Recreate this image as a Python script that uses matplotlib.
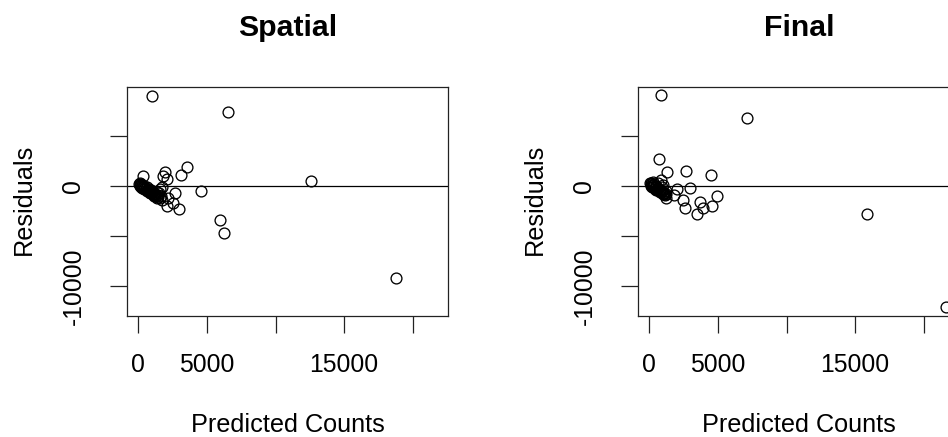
import matplotlib
matplotlib.use("Agg")
import matplotlib.pyplot as plt

plt.rcParams['font.family'] = ['Liberation Sans', 'DejaVu Sans']

# ---------------- data ----------------
titles = ["Spatial", "Final"]
x_label = "Predicted Counts"
y_label = "Residuals"

x_ticks = [0, 5000, 10000, 15000, 20000]
x_tick_labels = ["0", "5000", "", "15000", ""]
y_ticks = [-10000, -5000, 0, 5000]
y_tick_labels = ["-10000", "", "0", ""]

x_limits = (-802, 22595)
y_limits = (-12974, 9910)

spatial_pred = [975, 6560, 12588, 18760, 5955, 6247, 4548, 3528, 3134, 2989,
                2697, 1946, 1824, 2067, 2067, 2551, 2187, 364,
                60, 100, 150, 200, 250, 300, 350, 400, 450, 500, 550, 600,
                650, 700, 750, 800, 850, 900, 950, 1000, 1050, 1100, 1150,
                1200, 1250, 1300, 1400, 1450, 1550, 1650, 1700, 1350, 1500,
                1600, 1750, 120, 180, 280, 420, 620, 880, 1120, 1380]
spatial_resid = [8982, 7352, 532, -9148, -3426, -4691, -532, 1896, 1065, -2329,
                 -665, 1431, 998, 665, -1996, -1663, -1231, 998,
                 150, 250, 50, 180, -20, 100, -80, -150, 20, -200, -280, -100,
                 -350, -400, -250, -500, -550, -420, -650, -700, -600, -800,
                 -850, -750, -950, -1000, -900, -1100, -1200, -1000, -1350,
                 -600, -700, -300, -100, 0, -100, -200, -300, -450, -700,
                 -950, -1150]

final_pred = [828, 7137, 15896, 21650, 683, 1311, 2695, 4516, 2938, 4952,
              3691, 4589, 3497, 3885, 2577, 2431, 1216, 1798, 2038, 828, 1019,
              50, 100, 150, 200, 250, 300, 350, 400, 450, 500, 550, 600, 650,
              700, 750, 800, 850, 900, 950, 1000, 1050, 1100, 1150, 1200, 300,
              600, 900, 1250, 120, 220, 380, 520, 760, 980]
final_resid = [9048, 6820, -2761, -12110, 2661, 1431, 1497, 1065, -200, -965,
               -1564, -2029, -2794, -2229, -2229, -1397, -1231, -898, -333, 599, 100,
               250, 150, 300, 50, 100, -50, 150, -100, -200, 0, -250, -300, -150,
               -400, -450, -350, -550, -600, -500, -700, -750, -650, -850, -800,
               350, 250, -100, -500, 0, -100, -250, -350, -550, -800]

series = [(spatial_pred, spatial_resid), (final_pred, final_resid)]

# ---------------- layout ----------------
W, H = 948, 437
fig = plt.figure(figsize=(W / 100, H / 100), dpi=100)

panel_left_px = [127.3, 638.3]
panel_w_px = 321.0
panel_top_px, panel_bot_px = 86.7, 316.0

tick_len = 12.2   # points
tick_fs = 17.8
label_fs = 18.2
title_fs = 21.8

for i, (xs, ys) in enumerate(series):
    lx = panel_left_px[i]
    ax = fig.add_axes([lx / W, 1 - panel_bot_px / H,
                       panel_w_px / W, (panel_bot_px - panel_top_px) / H])
    ax.set_xlim(*x_limits)
    ax.set_ylim(*y_limits)
    ax.axhline(0, color='black', lw=0.9, zorder=1)
    ax.plot(xs, ys, linestyle='none', marker='o', ms=7.8, mfc='none',
            mec='black', mew=0.95, zorder=2)
    for s in ax.spines.values():
        s.set_linewidth(0.9)
        s.set_color('#222222')

    ax.set_xticks(x_ticks)
    ax.set_xticklabels(x_tick_labels, fontsize=tick_fs)
    ax.set_yticks(y_ticks)
    ax.set_yticklabels(y_tick_labels, fontsize=tick_fs)
    ax.tick_params(axis='x', direction='out', length=tick_len, width=0.9,
                   pad=14.4, color='#222222')
    ax.tick_params(axis='y', direction='out', length=tick_len, width=0.9,
                   pad=21.5, color='#222222')
    for lab in ax.get_yticklabels():
        lab.set_rotation(90)
        lab.set_rotation_mode('anchor')
        lab.set_ha('center')
        lab.set_va('baseline')

    cx = (lx + panel_w_px / 2) / W
    fig.text(cx, 1 - 36.5 / H, titles[i], fontsize=title_fs,
             fontweight='bold', ha='center', va='baseline')
    fig.text(cx, 1 - 431.7 / H, x_label, fontsize=label_fs,
             ha='center', va='baseline')
    fig.text((lx - 96.3) / W, 1 - 199 / H, y_label, fontsize=label_fs,
             rotation=90, rotation_mode='anchor', ha='center', va='baseline')

fig.savefig("out.png", dpi=100)
